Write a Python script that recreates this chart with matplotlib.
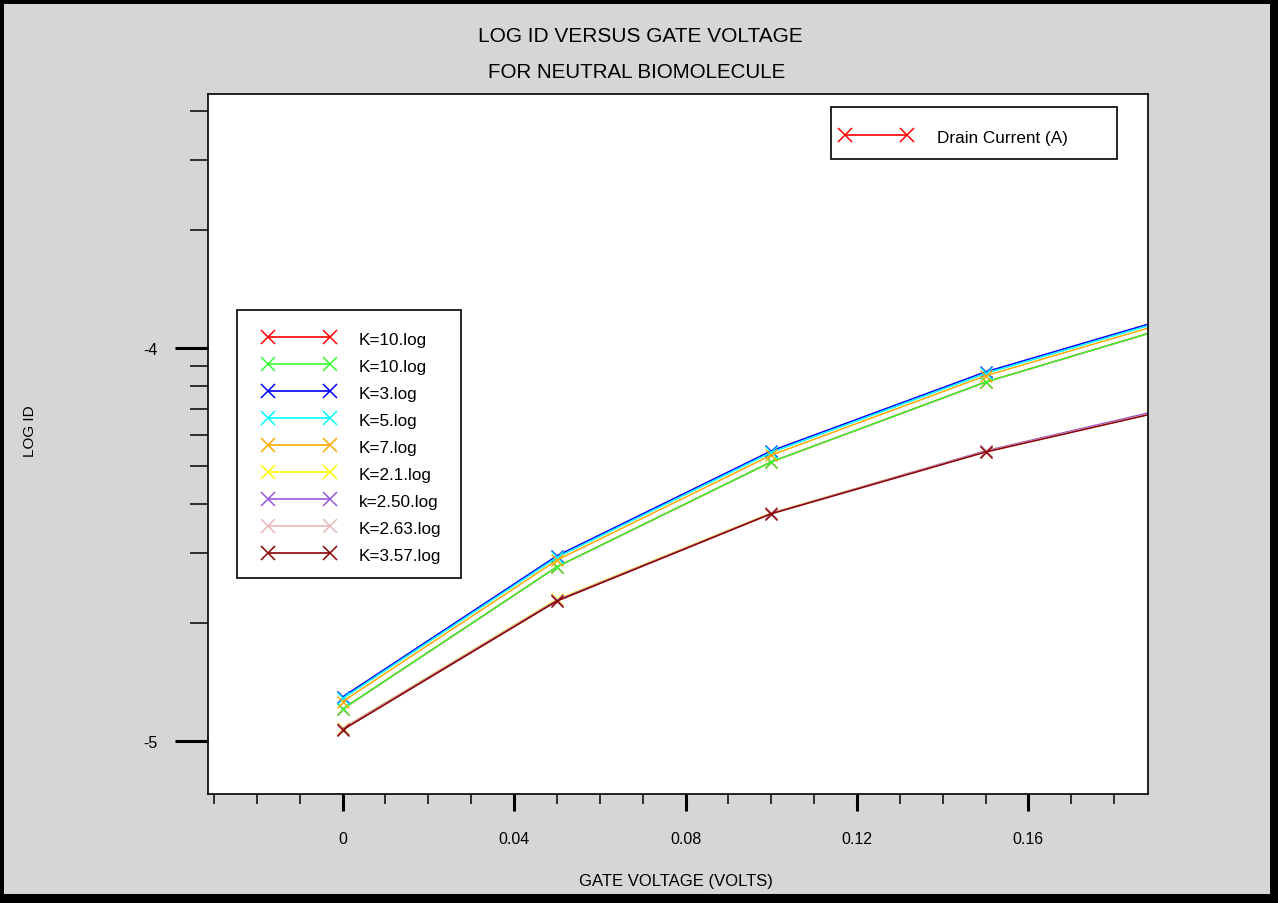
import numpy as np
import matplotlib
matplotlib.use('Agg')
import matplotlib.pyplot as plt
from matplotlib.patches import Rectangle

plt.rcParams['font.family'] = ['Liberation Sans', 'DejaVu Sans']

# gate voltage (V) and log10 of drain current
vg = [0.0, 0.05, 0.10, 0.15, 0.20]
labels = ['K=10.log', 'K=10.log', 'K=3.log', 'K=5.log', 'K=7.log',
          'K=2.1.log', 'k=2.50.log', 'K=2.63.log', 'K=3.57.log']
colors = ['#ff0000', '#33ff33', '#0000ff', '#00ffff', '#ffaa00',
          '#ffff00', '#9955dd', '#e8b8b8', '#8b0000']
logid_k10a = [-4.919, -4.557, -4.290, -4.087, -3.924]
logid_k10b = [-4.919, -4.557, -4.290, -4.087, -3.924]
logid_k3 = [-4.888, -4.529, -4.262, -4.061, -3.901]
logid_k5 = [-4.892, -4.533, -4.266, -4.065, -3.905]
logid_k7 = [-4.900, -4.540, -4.273, -4.071, -3.911]
logid_k21 = [-4.968, -4.640, -4.420, -4.262, -4.136]
logid_k250 = [-4.969, -4.642, -4.421, -4.262, -4.135]
logid_k263 = [-4.971, -4.644, -4.422, -4.264, -4.139]
logid_k357 = [-4.972, -4.644, -4.422, -4.265, -4.140]
series = [logid_k10a, logid_k10b, logid_k3, logid_k5, logid_k7,
          logid_k21, logid_k250, logid_k263, logid_k357]

W, H = 1278, 904
fig = plt.figure(figsize=(W / 100, H / 100), dpi=100)
fig.patch.set_facecolor('#d6d6d6')

ax = fig.add_axes([208 / W, 1 - 795 / H, (1148 - 208) / W, (795 - 95) / H])
ax.set_facecolor('white')
for s in ax.spines.values():
    s.set_linewidth(1.2)
    s.set_color('black')

for vals, c in zip(series, colors):
    ax.plot(vg, vals, color=c, marker='x', ms=9, mew=1.0, lw=1.1)

ax.set_xlim(-0.0314, 0.1879)
ax.set_ylim(-5.135, -3.354)

ax.set_xticks([0, 0.04, 0.08, 0.12, 0.16])
ax.set_xticklabels(['0', '0.04', '0.08', '0.12', '0.16'])
ax.set_xticks(np.round(np.arange(-0.03, 0.185, 0.01), 2), minor=True)
ax.set_yticks([-5, -4])
ax.set_yticklabels(['-5', '-4'])
ymin = [np.log10(k) - 5 for k in range(2, 10)] + [np.log10(k) - 4 for k in range(2, 5)]
ax.set_yticks(ymin, minor=True)
ax.tick_params(axis='y', which='major', length=24, width=2.2, pad=12, labelsize=11.5)
ax.tick_params(axis='y', which='minor', length=13, width=1.1)
ax.tick_params(axis='x', which='major', length=12, width=2.2, pad=15, labelsize=11.5)
ax.tick_params(axis='x', which='minor', length=7, width=1.1)

# overlay in pixel coordinates for titles, legends and border
ov = fig.add_axes([0, 0, 1, 1], zorder=5)
ov.set_xlim(0, W)
ov.set_ylim(H, 0)
ov.axis('off')

ov.text(640, 36, 'LOG ID VERSUS GATE VOLTAGE', ha='center', va='center', fontsize=15)
ov.text(637, 73, 'FOR NEUTRAL BIOMOLECULE', ha='center', va='center', fontsize=14.8)
ov.text(676, 882, 'GATE VOLTAGE (VOLTS)', ha='center', va='center', fontsize=12)
ov.text(30, 431, 'LOG ID', ha='center', va='center', fontsize=11, rotation=90)

# legend 1
ov.add_patch(Rectangle((831, 108), 286, 52, fill=False, ec='black', lw=1.2))
ov.plot([845, 907], [136, 136], color='#ff0000', marker='x', ms=10, mew=1.1, lw=1.2)
ov.text(937, 139, 'Drain Current (A)', ha='left', va='center', fontsize=12.3)

# legend 2
ov.add_patch(Rectangle((237, 311), 224, 268, fill=False, ec='black', lw=1.2))
for i, (lab, c) in enumerate(zip(labels, colors)):
    y = 338 + 27 * i
    ov.plot([268, 330], [y, y], color=c, marker='x', ms=10, mew=1.1, lw=1.2)
    ov.text(359, y + 3, lab, ha='left', va='center', fontsize=12.3)

# outer frame
for x0, y0, w, h in [(0, 0, W, 5), (0, 0, 4, H), (W - 8, 0, 8, H), (0, H - 9, W, 9)]:
    ov.add_patch(Rectangle((x0, y0), w, h, color='black', lw=0))

fig.savefig('out.png', dpi=100, facecolor=fig.get_facecolor())
